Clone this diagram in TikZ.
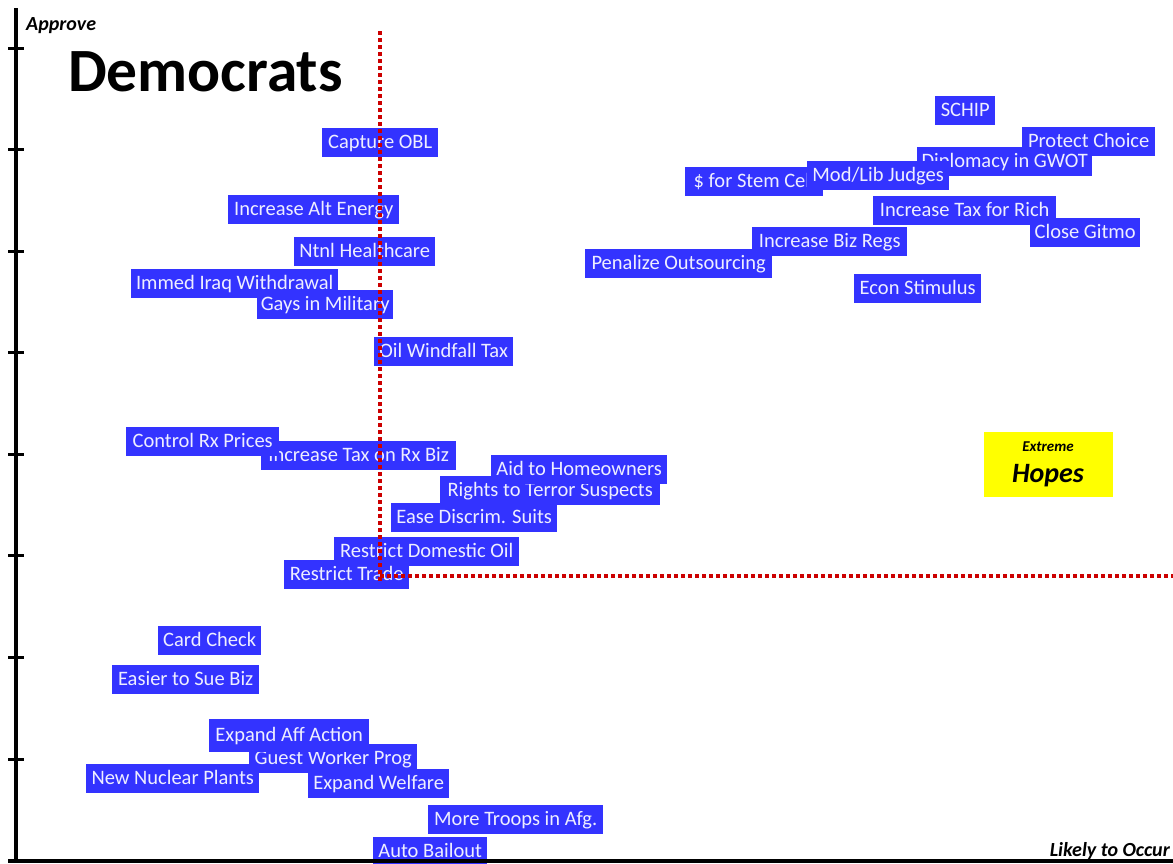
\documentclass[tikz,border=0pt]{standalone}
\usepackage{fontspec}
\setmainfont{Carlito}
\definecolor{barblue}{RGB}{51,51,255}
\definecolor{bartext}{RGB}{238,238,255}
\definecolor{guide}{RGB}{204,0,0}
\definecolor{hopeyellow}{RGB}{255,255,0}
% one issue label: name, left, top, right, bottom, text
\newcommand\issue[6]{%
  \node[item,minimum width={#4pt-#2pt},minimum height={#5pt-#3pt}] (#1) at (#2,#3) {#6};}
\begin{document}
\begin{tikzpicture}[x=1pt,y=-1pt,
  item/.style={fill=barblue,text=bartext,font=\fontsize{20.5}{21}\selectfont,
    anchor=north west,inner xsep=3pt,inner ysep=4pt,text height=16.4pt,text depth=4.3pt},
  axisline/.style={line width=4pt,black},
  tickmark/.style={line width=3pt,black},
  guideline/.style={line width=3.5pt,guide,dash pattern=on 3.5pt off 3.5pt},
  axislabel/.style={font=\fontsize{20}{20}\selectfont\bfseries\itshape,inner sep=0pt}]
\useasboundingbox (0,0) rectangle (1173,863);

% upper right cluster
\issue{schip}{935}{96}{995}{124}{SCHIP}
\issue{choice}{1022}{127}{1155}{156}{Protect Choice}
\issue{gwot}{917}{147}{1092}{176}{Diplomacy in GWOT}
\issue{stem}{685}{167}{823}{196}{\$ for Stem Cell}
\issue{judges}{807}{161}{949}{190}{Mod/Lib Judges}
\issue{taxrich}{873}{196}{1056}{225}{Increase Tax for Rich}
\issue{gitmo}{1030}{218}{1140}{247}{Close Gitmo}
\issue{bizregs}{752}{227}{907}{256}{Increase Biz Regs}
\issue{outsrc}{585}{249}{772}{277}{Penalize Outsourcing}
\issue{stimulus}{854}{274}{981}{303}{Econ Stimulus}

% upper left cluster
\issue{obl}{322}{128}{438}{157}{Capture OBL}
\issue{altenergy}{228}{195}{399}{224}{Increase Alt Energy}
\issue{health}{294}{237}{435}{266}{Ntnl Healthcare}
\issue{iraq}{131}{269}{338}{298}{Immed Iraq Withdrawal}
\issue{gays}{257}{290}{393}{319}{Gays in Military}
\issue{windfall}{374}{337}{513}{366}{Oil Windfall Tax}

% middle cluster
\issue{rxtax}{261}{441}{456}{470}{Increase Tax on Rx Biz}
\issue{rxprice}{126}{427}{279}{455}{Control Rx Prices}
\issue{terror}{440}{476}{660}{505}{Rights to Terror Suspects}
\issue{homeown}{491}{455}{667}{481}{Aid to Homeowners}
\issue{discrim}{391}{503}{557}{532}{Ease Discrim. Suits}
\issue{domoil}{334}{537}{519}{566}{Restrict Domestic Oil}
\issue{trade}{284}{560}{409}{588}{Restrict Trade}

% lower cluster
\issue{card}{158}{626}{261}{654}{Card Check}
\issue{sue}{112}{665}{259}{694}{Easier to Sue Biz}
\issue{guest}{249}{744}{417}{773}{Guest Worker Prog}
\issue{affirm}{209}{719}{369}{752}{Expand Aff Action}
\issue{nuclear}{86}{764}{259}{793}{New Nuclear Plants}
\issue{welfare}{308}{769}{449}{798}{Expand Welfare}
\issue{troops}{428}{805}{603}{834}{More Troops in Afg.}
\issue{bailout}{373}{837}{487}{866}{Auto Bailout}

% quadrant guides
\coordinate (vtop) at (380,31);
\coordinate (vbot) at (380,583);
\coordinate (hleft) at (380,576);
\coordinate (hright) at (1173,576);
\draw[guideline] (vtop) -- (vbot);
\draw[guideline] (hleft) -- (hright);

% axes with tick marks
\coordinate (ytop) at (16,8);
\coordinate (origin) at (16,861);
\coordinate (xleft) at (8,861);
\coordinate (xright) at (1173,861);
\draw[axisline] (ytop) -- (origin);
\draw[axisline] (xleft) -- (xright);
\foreach \k in {0,...,7}{
  \coordinate (tl\k) at (8,48+\k*101.57);
  \coordinate (tr\k) at (24,48+\k*101.57);
  \draw[tickmark] (tl\k) -- (tr\k);
}

% titles
\node[axislabel,anchor=base west] (approve) at (26,30.5) {Approve};
\node[axislabel,anchor=base east] (likely) at (1170,856) {Likely to Occur};
\node[font=\fontsize{61.5}{62}\selectfont\bfseries,inner sep=0pt,anchor=base west] (party) at (68,91) {Democrats};

% quadrant tag
\node[fill=hopeyellow,anchor=north west,minimum width=129pt,minimum height=65pt,inner sep=0pt] (hopesbox) at (984,432) {};
\node[font=\fontsize{15}{15}\selectfont\bfseries\itshape,inner sep=0pt,anchor=base] (extreme) at (1048,451.5) {Extreme};
\node[font=\fontsize{28}{28}\selectfont\bfseries\itshape,inner sep=0pt,anchor=base] (hopes) at (1048,482.5) {Hopes};
\end{tikzpicture}
\end{document}
